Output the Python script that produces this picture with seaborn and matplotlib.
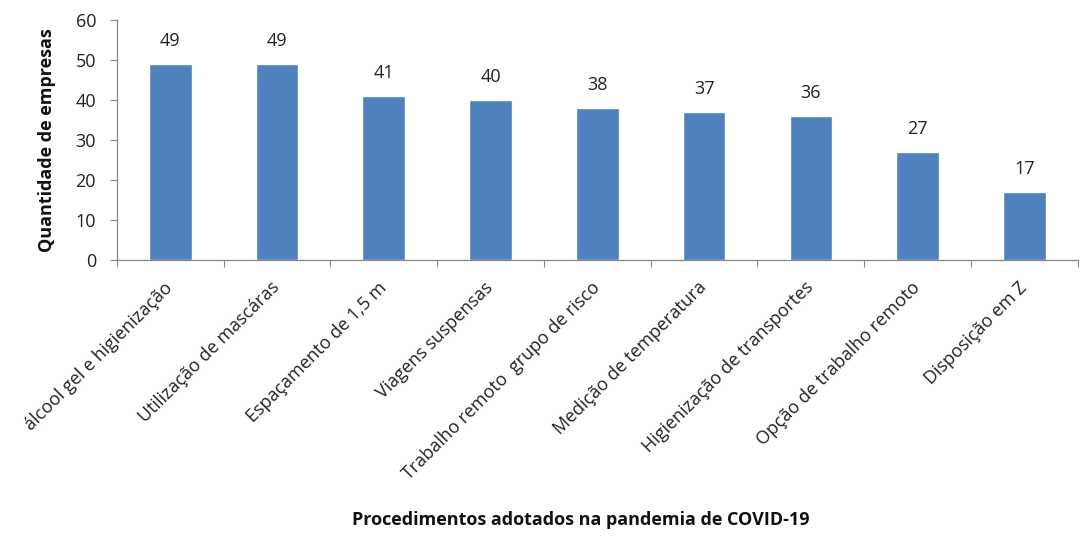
import matplotlib
matplotlib.use("Agg")
import matplotlib.pyplot as plt
import seaborn as sns
import pandas as pd
from matplotlib.ticker import FixedLocator

procedimentos = [
    "álcool gel e higienização",
    "Utilização de mascáras",
    "Espaçamento de 1,5 m",
    "Viagens suspensas",
    "Trabalho remoto  grupo de risco",
    "Medição de temperatura",
    "Higienização de transportes",
    "Opção de trabalho remoto",
    "Disposição em Z",
]
empresas = [49, 49, 41, 40, 38, 37, 36, 27, 17]
y_ticks = [0, 10, 20, 30, 40, 50, 60]

sns.set_theme(style="white")
plt.rcParams["font.family"] = ["Open Sans", "DejaVu Sans"]

df = pd.DataFrame({"proc": procedimentos, "n": empresas})

fig = plt.figure(figsize=(10.92, 5.45), dpi=100)
ax = fig.add_axes([0.107, 0.523, 0.880, 0.440])

sns.barplot(data=df, x="proc", y="n", color="#4F81BD", saturation=1,
            width=0.4, ax=ax)

for i, v in enumerate(empresas):
    ax.annotate(str(v), (i, v), xytext=(0, 10), textcoords="offset points",
                ha="center", va="bottom", fontsize=13, color="#222222")

ax.set_xlim(-0.5, len(procedimentos) - 0.5)
ax.set_ylim(0, 60)
ax.set_yticks(y_ticks)
ax.tick_params(axis="y", labelsize=13, length=5, width=0.8,
               color="#868686", direction="out", left=True, pad=10,
               labelcolor="#222222")

ax.set_xticks(range(len(procedimentos)))
ax.set_xticklabels(procedimentos, rotation=45, ha="right", va="center",
                   rotation_mode="anchor", fontsize=13, color="#222222")
ax.tick_params(axis="x", which="major", length=0, pad=18)
ax.xaxis.set_minor_locator(FixedLocator([i + 0.5 for i in range(-1, len(procedimentos))]))
ax.tick_params(axis="x", which="minor", length=5, width=0.8,
               color="#868686", direction="out", bottom=True)

for side in ("top", "right"):
    ax.spines[side].set_visible(False)
for side in ("left", "bottom"):
    ax.spines[side].set_color("#868686")
    ax.spines[side].set_linewidth(0.9)

ax.set_ylabel("Quantidade de empresas", fontsize=13, fontweight="bold",
              color="#111111", labelpad=14)
ax.set_xlabel("")
fig.text(0.532, 0.045, "Procedimentos adotados na pandemia de COVID-19",
         ha="center", va="center", fontsize=13, fontweight="bold", color="#111111")

fig.savefig("out.png", dpi=100, facecolor="white")
